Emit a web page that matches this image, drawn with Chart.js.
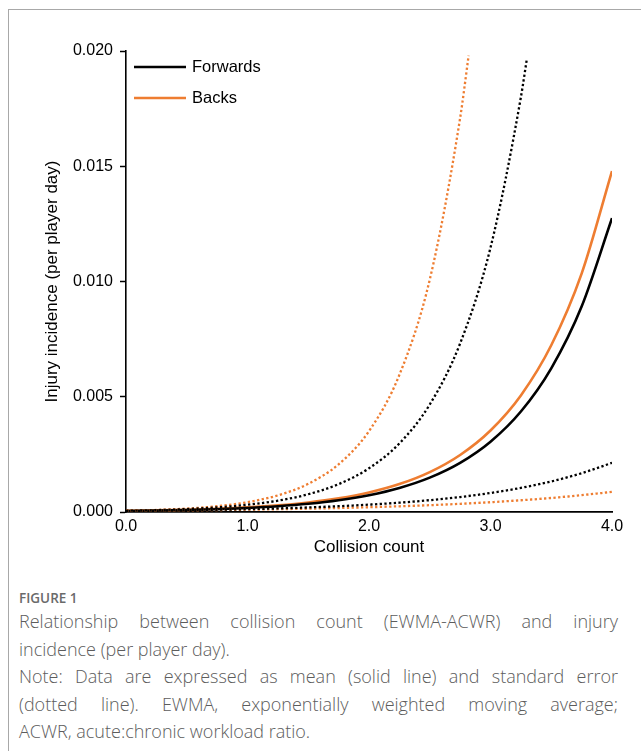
<!DOCTYPE html>
<html>
<head>
<meta charset="utf-8">
<script src="https://cdn.jsdelivr.net/npm/chart.js@4.4.1/dist/chart.umd.min.js"></script>
<style>
html, body { margin: 0; padding: 0; background: #fff; }
body { width: 641px; height: 751px; position: relative; overflow: hidden; }
#frame { position: absolute; left: 8px; top: 9px; width: 700px; height: 800px; border: 1px solid #a8a8a8; box-sizing: border-box; }
#wrap { position: absolute; left: 0; top: 0; width: 641px; height: 570px; }
#cap { position: absolute; left: 19px; top: 588px; width: 599px; font-family: "Open Sans", sans-serif; color: #5c5c5c; }
.fig { font-size: 13.5px; font-weight: 600; line-height: 20px; color: #6a6a6a; }
.ln { font-size: 18px; font-weight: 300; line-height: 27.5px; height: 27.5px; white-space: nowrap; }
.j { white-space: normal; text-align: justify; text-align-last: justify; }
</style>
</head>
<body>
<div id="frame"></div>
<div id="wrap"><canvas id="chart" width="641" height="570"></canvas></div>
<div id="cap">
  <div class="fig">FIGURE 1</div>
  <div class="ln j">Relationship between collision count (EWMA-ACWR) and injury</div>
  <div class="ln">incidence (per player day).</div>
  <div class="ln j">Note: Data are expressed as mean (solid line) and standard error</div>
  <div class="ln j">(dotted line). EWMA, exponentially weighted moving average;</div>
  <div class="ln">ACWR, acute:chronic workload ratio.</div>
</div>
<script>
// collision count (EWMA-ACWR)
const collision = [0, 0.25, 0.5, 0.75, 1.0, 1.25, 1.5, 1.75, 2.0, 2.25, 2.5, 2.75, 3.0, 3.25, 3.5, 3.75, 4.0];

// mean injury incidence (per player day)
const forwardsMean = [0.000042, 0.000060, 0.000085, 0.000122, 0.000175, 0.000250, 0.000357, 0.000510, 0.000730,
                      0.001044, 0.001492, 0.002133, 0.003050, 0.004360, 0.006235, 0.008915, 0.01275];
const backsMean = [0.000049, 0.000069, 0.000099, 0.000142, 0.000203, 0.000290, 0.000414, 0.000592, 0.000847,
                   0.001211, 0.001731, 0.002475, 0.003538, 0.005058, 0.007233, 0.010342, 0.01479];

// standard error, lower bounds
const forwardsLower = [0.000048, 0.000060, 0.000077, 0.000097, 0.000123, 0.000156, 0.000198, 0.000252, 0.000319,
                       0.000404, 0.000513, 0.000650, 0.000825, 0.001046, 0.001326, 0.001682, 0.002132];
const backsLower = [0.000049, 0.000059, 0.000070, 0.000084, 0.000101, 0.000121, 0.000144, 0.000173, 0.000207,
                    0.000248, 0.000296, 0.000355, 0.000425, 0.000509, 0.000609, 0.000729, 0.000873];

// standard error, upper bounds (stop at the top of the axis)
const forwardsUpperX = [0, 0.25, 0.5, 0.75, 1.0, 1.25, 1.5, 1.75, 2.0, 2.25, 2.5, 2.75, 3.0, 3.25, 3.3];
const forwardsUpper = [0.000052, 0.000081, 0.000127, 0.000200, 0.000313, 0.000491, 0.000771, 0.001209, 0.001896,
                       0.002973, 0.004663, 0.007313, 0.01147, 0.01799, 0.01968];
const backsUpperX = [0, 0.25, 0.5, 0.75, 1.0, 1.25, 1.5, 1.75, 2.0, 2.25, 2.5, 2.75, 2.82];
const backsUpper = [0.000052, 0.000087, 0.000148, 0.000251, 0.000426, 0.000721, 0.001222, 0.002071, 0.003510,
                    0.005949, 0.01008, 0.01709, 0.01980];

const yTicks = [0, 0.005, 0.010, 0.015, 0.020];
const xTicks = [0, 1, 2, 3, 4];

const BLACK = '#000000';
const ORANGE = '#EE7D31';
const FONT = '"Liberation Sans", Arial, sans-serif';

function pts(xs, ys) {
    return xs.map((x, i) => ({x: x, y: ys[i]}));
}

function series(label, xs, ys, color, dotted) {
    return {
        label: label,
        data: pts(xs, ys),
        borderColor: color,
        backgroundColor: color,
        borderWidth: dotted ? 2.3 : 2.6,
        borderDash: dotted ? [2.3, 2.4] : [],
        pointRadius: 0,
        fill: false,
        cubicInterpolationMode: 'monotone',
        inLegend: !dotted
    };
}

// legend drawn inside the plot area, top left
const areaLegend = {
    id: 'areaLegend',
    afterDatasetsDraw(chart) {
        const ctx = chart.ctx;
        const a = chart.chartArea;
        const items = chart.data.datasets.filter(d => d.inLegend);
        ctx.save();
        ctx.font = '16.5px ' + FONT;
        ctx.textBaseline = 'middle';
        ctx.fillStyle = '#000';
        items.forEach((d, i) => {
            const y = a.top + 16 + i * 31;
            ctx.strokeStyle = d.borderColor;
            ctx.lineWidth = 2.4;
            ctx.beginPath();
            ctx.moveTo(a.left + 8, y);
            ctx.lineTo(a.left + 60, y);
            ctx.stroke();
            ctx.fillText(d.label, a.left + 66, y + 0.5);
        });
        ctx.restore();
    }
};

const ctx = document.getElementById('chart').getContext('2d');
new Chart(ctx, {
    type: 'line',
    data: {
        datasets: [
            series('Forwards upper SE', forwardsUpperX, forwardsUpper, BLACK, true),
            series('Backs upper SE', backsUpperX, backsUpper, ORANGE, true),
            series('Forwards lower SE', collision, forwardsLower, BLACK, true),
            series('Backs lower SE', collision, backsLower, ORANGE, true),
            series('Forwards', collision, forwardsMean, BLACK, false),
            series('Backs', collision, backsMean, ORANGE, false)
        ]
    },
    options: {
        responsive: false,
        animation: false,
        layout: { padding: { left: 0, top: 51, right: 29, bottom: 0 } },
        plugins: { legend: { display: false }, tooltip: { enabled: false } },
        scales: {
            x: {
                type: 'linear',
                min: 0,
                max: 4,
                afterFit: s => { s.height = 58; },
                afterBuildTicks: s => { s.ticks = xTicks.map(v => ({value: v})); },
                ticks: {
                    color: '#000',
                    padding: 5,
                    maxRotation: 0,
                    font: { family: FONT, size: 16 },
                    callback: v => Number(v).toFixed(1)
                },
                grid: { display: false, drawTicks: false },
                border: { display: true, color: '#000', width: 1.8 },
                title: {
                    display: true,
                    text: 'Collision count',
                    color: '#000',
                    font: { family: FONT, size: 17 },
                    padding: { top: 0, bottom: 12 }
                }
            },
            y: {
                min: 0,
                max: 0.02,
                afterFit: s => { s.width = 126; },
                afterBuildTicks: s => { s.ticks = yTicks.map(v => ({value: v})); },
                ticks: {
                    color: '#000',
                    padding: 7,
                    font: { family: FONT, size: 16 },
                    callback: v => Number(v).toFixed(3)
                },
                grid: { display: true, drawOnChartArea: false, drawTicks: true, tickLength: 6, tickWidth: 1.5, tickColor: '#000' },
                border: { display: true, color: '#000', width: 1.6 },
                title: {
                    display: true,
                    text: 'Injury incidence (per player day)',
                    color: '#000',
                    font: { family: FONT, size: 17 },
                    padding: { top: 42, bottom: 0 }
                }
            }
        }
    },
    plugins: [areaLegend]
});
</script>
</body>
</html>
